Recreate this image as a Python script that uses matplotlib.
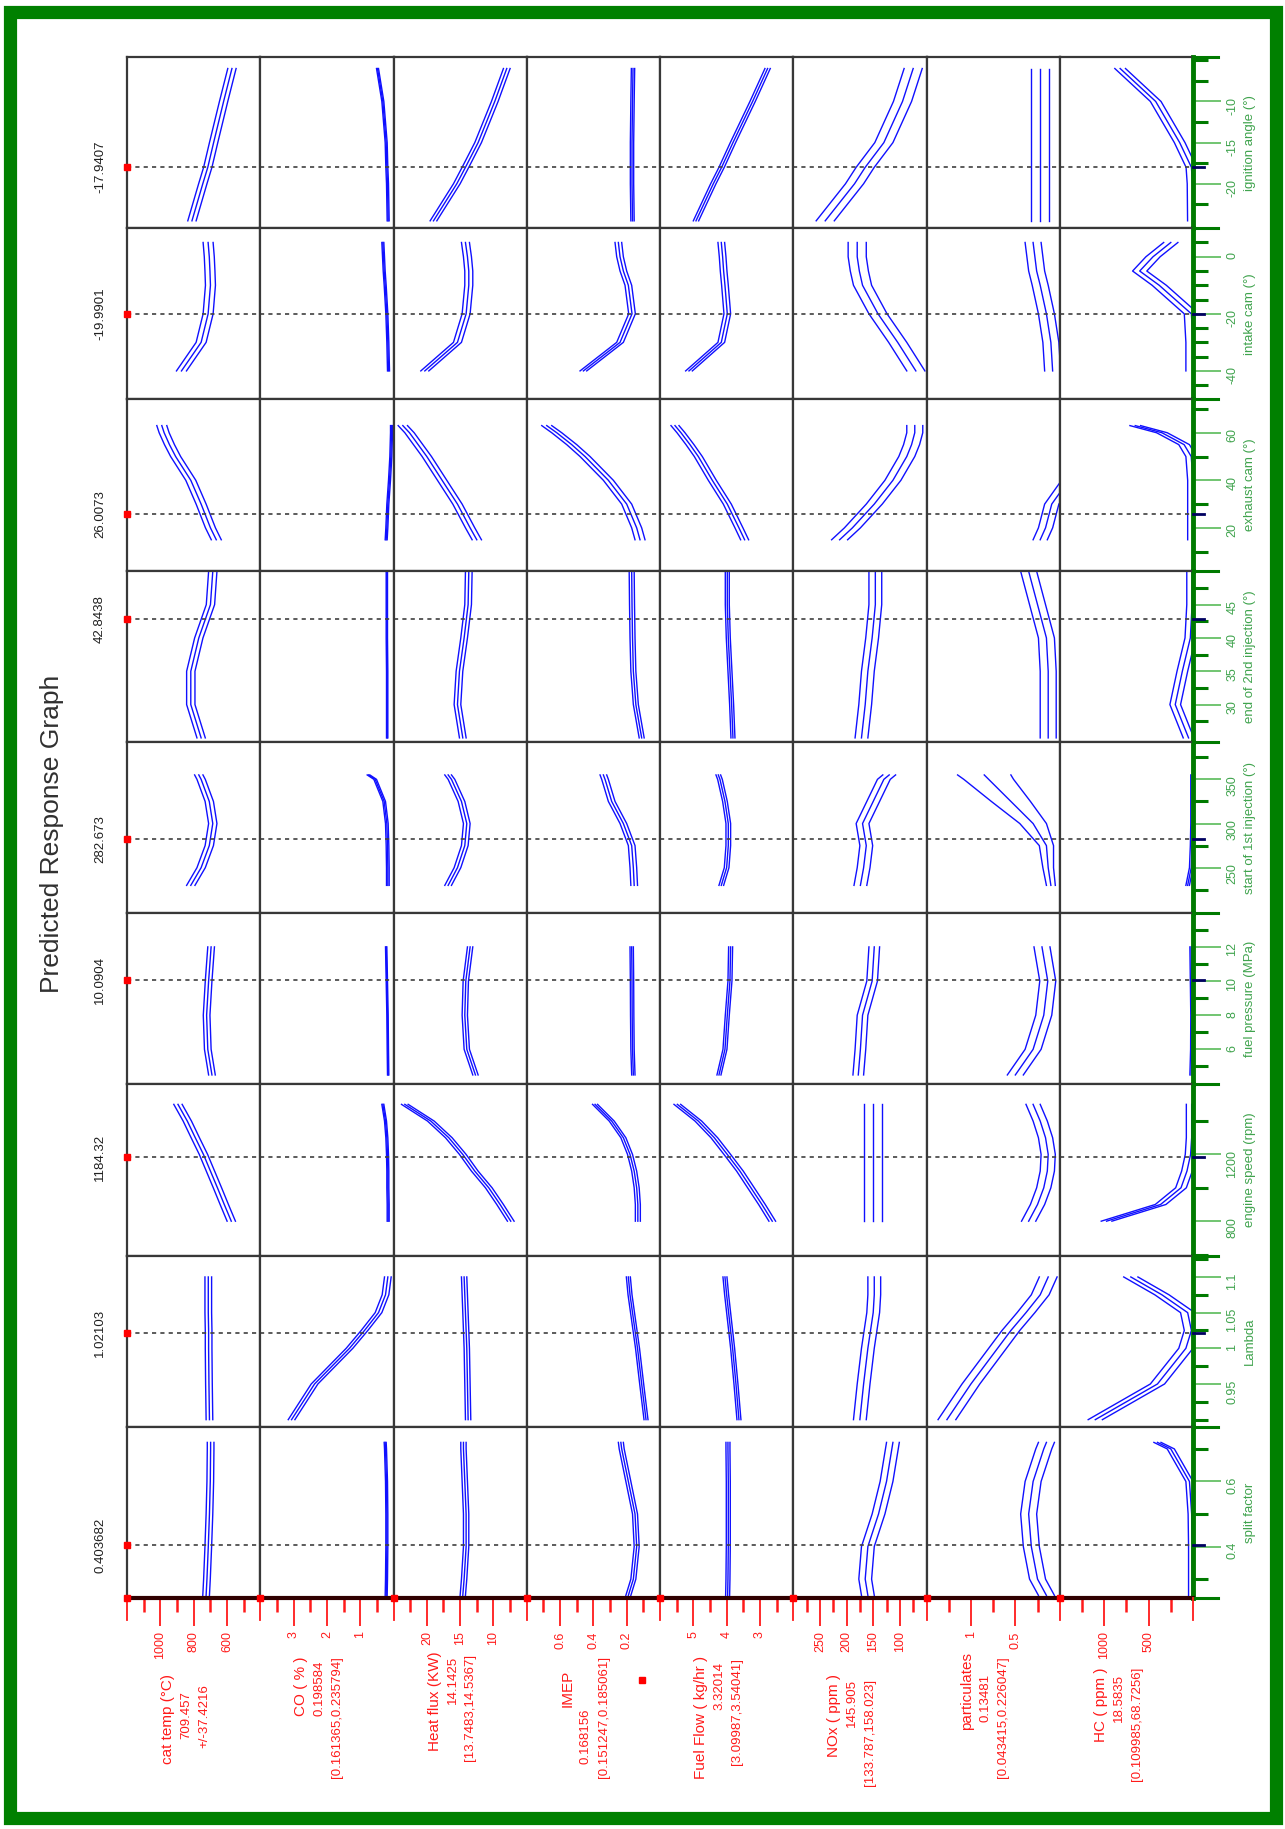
import numpy as np
import matplotlib
matplotlib.use("Agg")
import matplotlib.pyplot as plt
from matplotlib.lines import Line2D
from matplotlib.patches import Rectangle

plt.rcParams['font.family'] = ['Liberation Sans', 'DejaVu Sans']

# ---------------- data ----------------
responses = ["cat temp (°C)", "CO ( % )", "Heat flux (KW)", "IMEP",
             "Fuel Flow ( kg/hr )", "NOx ( ppm )", "particulates", "HC ( ppm )"]
resp_value = ["709.457", "0.198584", "14.1425", "0.168156",
              "3.32014", "145.905", "0.13481", "18.5835"]
resp_interval = ["+/-37.4216", "[0.161365,0.235794]", "[13.7483,14.5367]",
                 "[0.151247,0.185061]", "[3.09987,3.54041]", "[133.787,158.023]",
                 "[0.043415,0.226047]", "[0.109985,68.7256]"]
resp_range = [(400, 1200), (0, 4), (5, 25), (0, 0.8), (2, 6), (50, 300), (0, 1.5), (0, 1500)]
resp_major = [[600, 800, 1000], [1, 2, 3], [10, 15, 20], [0.2, 0.4, 0.6],
              [3, 4, 5], [100, 150, 200, 250], [0.5, 1], [500, 1000]]
resp_major_txt = [["600", "800", "1000"], ["1", "2", "3"], ["10", "15", "20"],
                  ["0.2", "0.4", "0.6"], ["3", "4", "5"], ["100", "150", "200", "250"],
                  ["0.5", "1"], ["500", "1000"]]
resp_minor = [[500, 700, 900, 1100], [0.5, 1.5, 2.5, 3.5], [7.5, 12.5, 17.5, 22.5],
              [0.1, 0.3, 0.5, 0.7], [2.5, 3.5, 4.5, 5.5], [75, 125, 175, 225, 275],
              [0.25, 0.75, 1.25], [250, 750, 1250]]

factors = ["ignition angle (°)", "intake cam (°)", "exhaust cam (°)",
           "end of 2nd injection (°)", "start of 1st injection (°)",
           "fuel pressure (MPa)", "engine speed (rpm)", "Lambda", "split factor"]
fac_current = [-17.9407, -19.9901, 26.0073, 42.8438, 282.673, 10.0904, 1184.32, 1.02103, 0.403682]
fac_current_txt = ["-17.9407", "-19.9901", "26.0073", "42.8438", "282.673",
                   "10.0904", "1184.32", "1.02103", "0.403682"]
fac_range = [(-25.4, -4.6), (-50, 10), (2, 74), (24.4, 50.1), (198.6, 392.4),
             (3.95, 13.98), (594, 1620), (0.89, 1.13), (0.242, 0.768)]
fac_major = [[-20, -15, -10], [-40, -20, 0], [20, 40, 60], [30, 35, 40, 45],
             [250, 300, 350], [6, 8, 10, 12], [800, 1200], [0.95, 1, 1.05, 1.1], [0.4, 0.6]]
fac_major_txt = [["-20", "-15", "-10"], ["-40", "-20", "0"], ["20", "40", "60"],
                 ["30", "35", "40", "45"], ["250", "300", "350"], ["6", "8", "10", "12"],
                 ["800", "1200"], ["0.95", "1", "1.05", "1.1"], ["0.4", "0.6"]]
fac_minor = [[-22.5, -17.5, -12.5, -7.5, -5], [-45, -35, -30, -25, -15, -10, -5, 5],
             [10, 30, 50, 70], [27.5, 32.5, 37.5, 42.5, 47.5], [225, 275, 325, 375],
             [5, 7, 9, 11, 13], [600, 1000, 1400], [0.9, 0.925, 0.975, 1.025, 1.075, 1.125],
             [0.3, 0.5, 0.7]]

fac_points = [
    [-24.5, -20, -18, -15, -10, -6],
    [-40, -30, -20, -10, -5, 0, 5],
    [15, 20, 30, 40, 50, 55, 60, 63],
    [25, 30, 35, 40, 45, 50],
    [230, 250, 275, 300, 325, 350, 355],
    [4.5, 6, 8, 10, 12],
    [800, 900, 1000, 1100, 1200, 1300, 1400, 1500],
    [0.9, 0.95, 1.0, 1.025, 1.05, 1.075, 1.1],
    [0.25, 0.3, 0.4, 0.5, 0.6, 0.7, 0.72],
]

cat_temp = [
    [810, 745, 715, 680, 620, 570],
    [873, 755, 713, 699, 702, 706, 713],
    [664, 699, 755, 817, 908, 945, 977, 991],
    [755, 817, 817, 769, 699, 685],
    [817, 755, 706, 685, 706, 755, 769],
    [690, 715, 722, 710, 695],
    [574, 616, 657, 699, 741, 790, 838, 894],
    [705, 708, 710, 710, 712, 712, 712],
    [725, 720, 712, 705, 700, 698, 698],
]
co = [
    [0.16, 0.18, 0.2, 0.22, 0.32, 0.48],
    [0.15, 0.17, 0.2, 0.25, 0.28, 0.3, 0.32],
    [0.22, 0.2, 0.17, 0.12, 0.08, 0.07, 0.06, 0.06],
    [0.19, 0.19, 0.19, 0.2, 0.2, 0.2],
    [0.17, 0.17, 0.18, 0.2, 0.28, 0.55, 0.75],
    [0.16, 0.17, 0.18, 0.2, 0.22],
    [0.16, 0.16, 0.17, 0.17, 0.18, 0.2, 0.24, 0.32],
    [3.06, 2.37, 1.32, 0.87, 0.45, 0.24, 0.17],
    [0.22, 0.21, 0.2, 0.2, 0.21, 0.24, 0.25],
]
heat_flux = [
    [19.0, 15.5, 14.2, 12.3, 9.8, 8.0],
    [20.3, 15.4, 14.1, 13.7, 13.7, 13.9, 14.2],
    [12.5, 13.5, 15.4, 17.7, 20.0, 21.3, 22.6, 23.6],
    [14.6, 15.4, 15.1, 14.4, 13.8, 13.7],
    [16.8, 15.4, 14.3, 14.0, 14.8, 16.3, 16.8],
    [12.7, 14.0, 14.3, 14.15, 13.5],
    [7.4, 9.0, 10.7, 12.8, 14.6, 16.7, 19.4, 23.3],
    [13.8, 13.9, 14.0, 14.1, 14.2, 14.3, 14.4],
    [14.6, 14.4, 14.1, 14.1, 14.3, 14.5, 14.5],
]
imep = [
    [0.165, 0.168, 0.168, 0.168, 0.165, 0.162],
    [0.46, 0.24, 0.168, 0.19, 0.22, 0.24, 0.25],
    [0.12, 0.14, 0.2, 0.31, 0.45, 0.53, 0.62, 0.68],
    [0.11, 0.145, 0.16, 0.165, 0.168, 0.17],
    [0.155, 0.16, 0.17, 0.22, 0.29, 0.33, 0.34],
    [0.16, 0.165, 0.167, 0.168, 0.17],
    [0.133, 0.133, 0.14, 0.155, 0.18, 0.22, 0.29, 0.39],
    [0.084, 0.11, 0.135, 0.15, 0.165, 0.18, 0.19],
    [0.19, 0.16, 0.14, 0.15, 0.19, 0.23, 0.235],
]
fuel_flow = [
    [4.92, 4.4, 4.15, 3.81, 3.22, 2.77],
    [5.13, 4.16, 3.98, 4.05, 4.09, 4.12, 4.16],
    [3.46, 3.63, 3.98, 4.43, 4.85, 5.1, 5.37, 5.55],
    [3.81, 3.85, 3.9, 3.95, 3.98, 3.98],
    [4.16, 4.0, 3.95, 3.95, 4.05, 4.2, 4.25],
    [4.23, 4.05, 3.98, 3.9, 3.88],
    [2.63, 2.94, 3.27, 3.6, 3.98, 4.37, 4.85, 5.48],
    [3.63, 3.72, 3.82, 3.88, 3.94, 4.0, 4.05],
    [3.97, 3.96, 3.95, 3.95, 3.95, 3.96, 3.96],
]
nox = [
    [240, 185, 165, 130, 95, 75],
    [70, 104, 141, 170, 176, 180, 180],
    [213, 189, 148, 113, 87, 78, 72, 72],
    [172, 165, 160, 152, 146, 146],
    [174, 168, 163, 170, 150, 130, 120],
    [178, 174, 170, 152, 148],
    [150, 150, 150, 150, 150, 150, 150, 150],
    [175, 168, 160, 155, 150, 148, 148],
    [160, 165, 160, 140, 125, 115, 113],
]
particulates = [
    [0.22, 0.22, 0.22, 0.22, 0.22, 0.22],
    [0.08, 0.1, 0.15, 0.22, 0.26, 0.28, 0.30],
    [0.22, 0.16, 0.09, -0.1, -0.3, -0.4, -0.5, -0.55],
    [0.13, 0.13, 0.13, 0.15, 0.25, 0.35],
    [0.1, 0.13, 0.15, 0.3, 0.55, 0.8, 0.85],
    [0.5, 0.3, 0.18, 0.135, 0.2],
    [0.35, 0.25, 0.18, 0.14, 0.13, 0.16, 0.22, 0.3],
    [1.27, 1.0, 0.7, 0.55, 0.38, 0.22, 0.13],
    [0.15, 0.25, 0.32, 0.35, 0.3, 0.18, 0.15],
]
hc = [
    [1, 5, 18, 150, 420, 820],
    [0, 0, 18, 380, 600, 450, 250],
    [0, 0, 0, 0, 20, 100, 350, 650],
    [50, 200, 120, 30, 10, 10],
    [60, 20, 10, 5, 5, 5, 5],
    [20, 12, 10, 15, 20],
    [973, 365, 135, 68, 27, 15, 15, 15],
    [1100, 400, 80, 18, 60, 350, 700],
    [10, 10, 10, 15, 40, 250, 400],
]
curves = [cat_temp, co, heat_flux, imep, fuel_flow, nox, particulates, hc]

# confidence half widths, one per factor (or per point)
ci = [
    [25, 30, 30, 25, 25, 20, 25, 20, 20],
    [0.03, 0.03, 0.03, 0.02, 0.04, 0.02, 0.03, 0.1, 0.03],
    [0.5, 0.6, 0.7, 0.5, 0.5, 0.4, 0.5, 0.4, 0.4],
    [0.01, 0.02, 0.03, 0.015, 0.02, 0.01, 0.015, 0.012, 0.015],
    [0.08, 0.1, 0.12, 0.06, 0.07, 0.06, 0.1, 0.06, 0.06],
    [17, 17, 15, 12, 12, 10, 17, 12, 12],
    [0.1, 0.09, 0.08, 0.09, [0.05, 0.06, 0.08, 0.15, 0.22, 0.28, 0.3], 0.09, 0.08, 0.1, 0.09],
    [60, 80, 60, 60, 20, 15, 60, 80, 40],
]

# ---------------- layout ----------------
W, H = 1285, 1829
GL, GR, GT, GB = 127, 1193, 57, 1598
CW = (GR - GL) / 8
RH = (GB - GT) / 9


def fx(x):
    return x / W


def fy(y):
    return 1 - y / H


fig = plt.figure(figsize=(W / 100, H / 100), dpi=100)
fig.patch.set_facecolor('white')

RED = '#ff1a1a'
GREEN_TXT = '#3fa34d'
GREEN_AX = '#007a00'

for i in range(9):
    flo, fhi = fac_range[i]
    for j in range(8):
        rlo, rhi = resp_range[j]
        ax = fig.add_axes([fx(GL + j * CW), fy(GT + (i + 1) * RH), CW / W, RH / H])
        ax.set_xlim(rhi, rlo)
        ax.set_ylim(flo, fhi)
        ax.set_xticks([])
        ax.set_yticks([])
        for s in ax.spines.values():
            s.set_color('#383838')
            s.set_linewidth(1.6)
        f = np.array(fac_points[i])
        v = np.array(curves[j][i], dtype=float)
        c = np.broadcast_to(np.array(ci[j][i], dtype=float), v.shape)
        for line in (v, v + c, v - c):
            ax.plot(line, f, color='#1010ff', lw=1.0)
        ax.axhline(fac_current[i], color='#404040', lw=1.2, ls=(0, (2.5, 2.5)))

        if i == 8:
            ax.set_xticks(resp_major[j])
            ax.set_xticklabels(resp_major_txt[j])
            ax.set_xticks(resp_minor[j], minor=True)
            ax.tick_params(axis='x', which='major', colors=RED, length=20, width=1.3,
                           labelsize=9, labelrotation=90, pad=4)
            ax.tick_params(axis='x', which='minor', colors=RED, length=10, width=1.8)
            ax.spines['bottom'].set_color('#300000')
            ax.spines['bottom'].set_linewidth(3)
        if j == 7:
            ax.yaxis.tick_right()
            ax.set_yticks(fac_major[i])
            ax.set_yticklabels(fac_major_txt[i])
            ax.set_yticks(fac_minor[i], minor=True)
            ax.tick_params(axis='y', which='major', colors='#66c066', length=20, width=1.3,
                           labelsize=9, labelrotation=90, pad=4, labelcolor=GREEN_TXT)
            ax.tick_params(axis='y', which='minor', colors=GREEN_AX, length=11, width=2.2)
            ax.spines['right'].set_color(GREEN_AX)
            ax.spines['right'].set_linewidth(3.5)

    # current value of the factor, marker and label
    ydash = GT + i * RH + (fhi - fac_current[i]) / (fhi - flo) * RH
    fig.add_artist(Line2D([fx(GL)], [fy(ydash)], marker='s', ms=4, color='red', mec='red'))
    fig.add_artist(Line2D([fx(GR), fx(GR + 11)], [fy(ydash), fy(ydash)], color='#000060', lw=2))
    fig.text(fx(100), fy(ydash), fac_current_txt[i], rotation=90, ha='center', va='center',
             fontsize=9.5, color='#202020')
    fig.text(fx(1250), fy(GT + (i + 0.5) * RH), factors[i], rotation=90, ha='center',
             va='center', fontsize=9.5, color=GREEN_TXT)
    # row boundary tick on the green axis
    fig.add_artist(Line2D([fx(GR), fx(GR + 25)], [fy(GT + i * RH)] * 2, color=GREEN_AX, lw=2.2))
fig.add_artist(Line2D([fx(GR), fx(GR + 25)], [fy(GB)] * 2, color=GREEN_AX, lw=2.2))

# column boundaries on the red axis
for j in range(9):
    xb = GL + j * CW
    fig.add_artist(Line2D([fx(xb), fx(xb)], [fy(GB), fy(GB + 22)], color=RED, lw=1.3))
    if j < 8:
        fig.add_artist(Line2D([fx(xb)], [fy(GB)], marker='s', ms=4, color='red', mec='red'))

# response labels (name, value, interval)
name_top = [1674, 1656, 1651, 1670, 1656, 1674, 1652, 1667]
val_top = [1691, 1661, 1656, 1708, 1662, 1679, 1674, 1674]
int_top = [1684, 1656, 1654, 1656, 1658, 1679, 1656, 1667]
for j in range(8):
    x0 = GL + j * CW
    fig.text(fx(x0 + 41), fy(name_top[j]), responses[j], rotation=90, ha='center', va='top',
             fontsize=11, color=RED)
    fig.text(fx(x0 + 59), fy(val_top[j]), resp_value[j], rotation=90, ha='center', va='top',
             fontsize=9.5, color=RED)
    fig.text(fx(x0 + 77), fy(int_top[j]), resp_interval[j], rotation=90, ha='center', va='top',
             fontsize=9.5, color=RED)
fig.add_artist(Line2D([fx(642)], [fy(1680)], marker='s', ms=4, color='red', mec='red'))

fig.text(fx(52), fy(834), "Predicted Response Graph", rotation=90, ha='center', va='center',
         fontsize=19, color='#303030')

# green frame
fig.add_artist(Rectangle((fx(10), fy(1818)), fx(1276 - 10), (1818 - 11.5) / H,
                         transform=fig.transFigure, fill=False, edgecolor='#008000', lw=9.5))

fig.savefig("out.png", dpi=100)
